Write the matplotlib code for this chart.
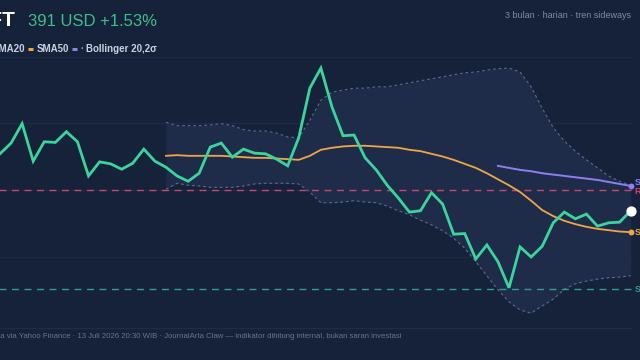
import matplotlib
matplotlib.use("Agg")
import matplotlib.pyplot as plt
import numpy as np

# ---- data ----
close = [400.4, 402.0, 404.9, 399.3, 402.2, 402.1, 403.7, 402.2, 397.1, 399.2,
         398.9, 398.1, 399.0, 401.1, 399.3, 398.4, 397.1, 396.3, 397.5, 401.4,
         402.0, 399.9, 401.1, 400.5, 400.4, 399.6, 398.6, 402.8, 410.2, 413.2,
         407.4, 403.1, 403.2, 399.8, 398.0, 395.7, 393.8, 391.7, 391.9, 394.6,
         392.9, 388.4, 388.5, 384.7, 386.8, 384.3, 380.4, 386.5, 385.0, 386.6,
         390.1, 391.7, 390.7, 391.4, 389.6, 390.1, 390.2, 391.9]
sma20_start = 15
sma20 = [400.1, 400.2, 400.1, 400.1, 400.1, 400.1, 400.0, 399.9, 399.8, 399.8,
         399.7, 399.6, 399.5, 400.1, 401.0, 401.3, 401.5, 401.6, 401.6, 401.5,
         401.4, 401.3, 401.0, 400.8, 400.4, 400.0, 399.5, 398.9, 398.3, 397.5,
         396.6, 395.7, 394.7, 393.4, 392.0, 391.1, 390.4, 389.9, 389.5, 389.2,
         389.0, 388.8, 388.7]
bb_upper = [405.1, 404.6, 404.6, 404.6, 404.7, 404.9, 404.6, 404.0, 403.8, 403.8,
            403.5, 402.9, 402.8, 405.4, 408.4, 409.6, 409.9, 410.2, 410.2, 410.4,
            410.4, 410.7, 411.0, 411.3, 411.6, 411.9, 412.2, 412.5, 412.6, 412.9,
            413.1, 413.2, 412.6, 410.4, 407.2, 404.3, 402.3, 400.8, 399.5, 398.3,
            397.1, 396.3, 395.7]
bb_lower = [395.1, 396.0, 395.7, 395.6, 395.4, 395.4, 395.4, 395.6, 395.9, 396.0,
            396.0, 396.0, 395.9, 394.7, 393.1, 393.1, 393.2, 393.4, 393.2, 393.1,
            392.6, 391.9, 391.3, 390.5, 389.8, 388.9, 387.8, 386.3, 384.3, 382.2,
            380.1, 378.3, 377.1, 376.6, 377.7, 378.7, 380.2, 381.0, 381.4, 381.7,
            381.9, 382.0, 382.2]
sma50_start = 45
sma50 = [398.6, 398.3, 398.0, 397.8, 397.5, 397.3, 397.1, 396.9, 396.7, 396.5,
         396.2, 395.9, 395.6]
resistance = 395.0
support = 380.2
grid_levels = [385, 395, 405]

ticker = "MSFT"
price_text = "391 USD +1.53%"
subtitle = "3 bulan · harian · tren sideways"
footer = "Data via Yahoo Finance · 13 Juli 2026 20:30 WIB · JournalArta Claw — indikator dihitung internal, bukan saran investasi"
label_sma50 = "SMA50 395.6"
label_res = "R 395.0"
label_sma20 = "SMA20 388.7"
label_sup = "S 380.2"

# ---- style ----
BG = "#16213a"
TEAL = "#3ad49c"
ORANGE = "#eea744"
PURPLE = "#8c7ff0"
RED = "#c9476f"
SUP = "#2f9f8f"
BAND = "#1e2c4a"
BANDLINE = "#5b6b8d"
GRID = "#1f2b44"
plt.rcParams['font.family'] = ['Liberation Sans', 'DejaVu Sans']

W, H = 640, 360
fig = plt.figure(figsize=(6.4, 3.6), dpi=100, facecolor=BG)

top_px, bot_px = 57, 328
ax = fig.add_axes([0, (H - bot_px) / H, 1, (bot_px - top_px) / H])
ax.set_facecolor(BG)
step = 11.065
ax.set_xlim(0, W / step)
ax.set_ylim(374.4, 414.85)
for s in ax.spines.values():
    s.set_visible(False)
ax.set_xticks([]); ax.set_yticks([])

x = np.arange(len(close))
x20 = np.arange(sma20_start, sma20_start + len(sma20))
x50 = np.arange(sma50_start, sma50_start + len(sma50))
xend = x[-1]

for g in grid_levels:
    ax.plot([-1, xend + 0.1], [g, g], color=GRID, lw=1.0, zorder=1)

ax.fill_between(x20, bb_lower, bb_upper, color=BAND, lw=0, zorder=2)
ax.plot(x20, bb_upper, color=BANDLINE, lw=0.8, ls=(0, (2.5, 2.5)), zorder=3)
ax.plot(x20, bb_lower, color=BANDLINE, lw=0.8, ls=(0, (2.5, 2.5)), zorder=3)

ax.plot([-1, xend], [resistance, resistance], color=RED, lw=1.0, ls=(0, (5, 4)), zorder=3)
ax.plot([-1, xend], [support, support], color=SUP, lw=1.0, ls=(0, (5, 4)), zorder=3)

ax.plot(x20, sma20, color=ORANGE, lw=1.3, zorder=4)
ax.plot(x50, sma50, color=PURPLE, lw=1.4, zorder=4)
ax.plot(x, close, color=TEAL, lw=2.0, zorder=5, solid_joinstyle='miter')

ax.scatter([x50[-1]], [sma50[-1]], s=18, color=PURPLE, zorder=6, lw=0)
ax.scatter([x20[-1]], [sma20[-1]], s=18, color=ORANGE, zorder=6, lw=0)
ax.scatter([xend], [close[-1]], s=55, color="white", zorder=7, lw=0)

lx = xend + 0.35
ax.text(lx, sma50[-1] + 0.5, label_sma50, color=PURPLE, fontsize=6.5, fontweight='bold', va='center', ha='left', clip_on=False)
ax.text(lx, resistance - 0.3, label_res, color=RED, fontsize=6.5, fontweight='bold', va='center', ha='left', clip_on=False)
ax.text(lx, sma20[-1], label_sma20, color=ORANGE, fontsize=6.5, fontweight='bold', va='center', ha='left', clip_on=False)
ax.text(lx, support, label_sup, color=SUP, fontsize=6.5, fontweight='bold', va='center', ha='left', clip_on=False)

def fx(px): return px / W
def fy(py): return 1 - py / H

fig.text(fx(16), fy(20), ticker, color="white", fontsize=15, fontweight='bold', ha='right', va='center')
fig.text(fx(28), fy(21), price_text, color="#3dbf8c", fontsize=12, ha='left', va='center')
fig.text(fx(631), fy(16), subtitle, color="#7f8ba3", fontsize=6.5, ha='right', va='center')

# legend row
ly = fy(49)
fig.text(fx(25), ly, "SMA20", color="#c9d1e0", fontsize=7, fontweight='bold', ha='right', va='center')
fig.add_artist(plt.Line2D([fx(28), fx(33)], [ly, ly], color=ORANGE, lw=2.2, solid_capstyle='butt'))
fig.text(fx(36.5), ly, "SMA50", color="#c9d1e0", fontsize=7, fontweight='bold', ha='left', va='center')
fig.add_artist(plt.Line2D([fx(72), fx(77)], [ly, ly], color=PURPLE, lw=2.2, solid_capstyle='butt'))
fig.text(fx(80.5), ly, "·", color="#8f9ab0", fontsize=7, fontweight='bold', ha='left', va='center')
fig.text(fx(86), ly, "Bollinger 20,2σ", color="#c9d1e0", fontsize=7, fontweight='bold', ha='left', va='center')

# separators
fig.add_artist(plt.Line2D([0, fx(632)], [fy(57), fy(57)], color="#202c45", lw=1))
fig.add_artist(plt.Line2D([0, fx(632)], [fy(328), fy(328)], color="#202c45", lw=1))

fig.text(fx(-12), fy(337), footer, color="#66758f", fontsize=5.6, ha='left', va='center')

fig.savefig("out.png", dpi=100, facecolor=BG)
